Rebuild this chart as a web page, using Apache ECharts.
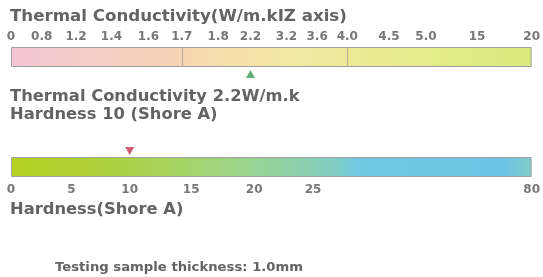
<!DOCTYPE html>
<html>
<head>
  <meta charset="utf-8">
  <title>Thermal Conductivity / Hardness</title>
  <script src="https://cdn.jsdelivr.net/npm/echarts@6/dist/echarts.min.js"></script>
  <style>
    html, body { margin: 0; padding: 0; background: #fff; }
    #chart { width: 543px; height: 277px; }
  </style>
</head>
<body>
<div id="chart"></div>
<script type="text/javascript">
// thermal conductivity scale (non linear, labels as printed on the bar)
var condTicks = ['0','0.8','1.2','1.4','1.6','1.7','1.8','2.2','3.2','3.6','4.0','4.5','5.0','15','20'];
var condTickPos = [0, 5.9, 12.5, 19.3, 26.4, 32.8, 39.8, 46.0, 52.9, 58.8, 64.6, 72.6, 79.7, 89.5, 100];
var condDividers = ['1.7', '4.0'];
var condValue = '2.2';

// hardness scale
var hardTicks = ['0','5','10','15','20','25','80'];
var hardTickPos = [0, 11.6, 22.8, 34.6, 46.7, 58.0, 100];
var hardValue = '10';

var sampleThickness = '1.0mm';

var FONT = '"DejaVu Sans", Verdana, sans-serif';
var TXT = '#636363';

function posOf(ticks, pos, v) {
  return pos[ticks.indexOf(v)];
}
function labelOf(ticks, pos) {
  return function (val) {
    for (var i = 0; i < pos.length; i++) {
      if (Math.abs(pos[i] - val) < 0.01) return ticks[i];
    }
    return '';
  };
}

var chart = echarts.init(document.getElementById('chart'));

var option = {
  backgroundColor: '#fff',
  animation: false,
  grid: [
    { left: 11, right: 10, top: 47, height: 20 },
    { left: 11, right: 9, top: 157, height: 20 }
  ],
  xAxis: [
    {
      gridIndex: 0, type: 'value', min: 0, max: 100, position: 'top',
      axisLine: { show: false }, axisTick: { show: false }, splitLine: { show: false },
      axisLabel: {
        customValues: condTickPos, formatter: labelOf(condTicks, condTickPos),
        margin: 4, fontSize: 12, fontWeight: 'bold', fontFamily: FONT, color: '#777',
        showMinLabel: true, showMaxLabel: true
      }
    },
    {
      gridIndex: 1, type: 'value', min: 0, max: 100, position: 'bottom',
      axisLine: { show: false }, axisTick: { show: false }, splitLine: { show: false },
      axisLabel: {
        customValues: hardTickPos, formatter: labelOf(hardTicks, hardTickPos),
        margin: 7, fontSize: 12, fontWeight: 'bold', fontFamily: FONT, color: '#777',
        showMinLabel: true, showMaxLabel: true
      }
    }
  ],
  yAxis: [
    { gridIndex: 0, type: 'category', data: ['cond'], show: false },
    { gridIndex: 1, type: 'category', data: ['hard'], show: false }
  ],
  series: [
    {
      type: 'bar', xAxisIndex: 0, yAxisIndex: 0, barWidth: 20,
      data: [100],
      itemStyle: {
        borderColor: '#a0a0a0', borderWidth: 1,
        color: new echarts.graphic.LinearGradient(0, 0, 1, 0, [
          { offset: 0, color: '#f4c6d4' },
          { offset: 0.15, color: '#f6ccc8' },
          { offset: 0.3, color: '#f8d2b6' },
          { offset: 0.42, color: '#f6e0aa' },
          { offset: 0.55, color: '#f1e8a2' },
          { offset: 0.75, color: '#e7ec8e' },
          { offset: 1, color: '#dcea7c' }
        ])
      },
      markLine: {
        silent: true, symbol: 'none', label: { show: false },
        lineStyle: { color: '#b0ae96', type: 'solid', width: 1 },
        data: condDividers.map(function (d) { return { xAxis: posOf(condTicks, condTickPos, d) }; })
      }
    },
    {
      type: 'scatter', xAxisIndex: 0, yAxisIndex: 0,
      symbol: 'triangle', symbolSize: [9, 8], symbolOffset: [0, 17],
      itemStyle: { color: '#3a9a52' },
      data: [[posOf(condTicks, condTickPos, condValue), 'cond']]
    },
    {
      type: 'bar', xAxisIndex: 1, yAxisIndex: 1, barWidth: 20,
      data: [100],
      itemStyle: {
        borderColor: '#a0a0a0', borderWidth: 1,
        color: new echarts.graphic.LinearGradient(0, 0, 1, 0, [
          { offset: 0, color: '#b4d022' },
          { offset: 0.15, color: '#aed036' },
          { offset: 0.3, color: '#a8d45c' },
          { offset: 0.45, color: '#9ad48e' },
          { offset: 0.56, color: '#8cd0b0' },
          { offset: 0.62, color: '#80cec2' },
          { offset: 0.67, color: '#6ec8e2' },
          { offset: 0.95, color: '#6cc4e4' },
          { offset: 1, color: '#80ccc8' }
        ])
      }
    },
    {
      type: 'scatter', xAxisIndex: 1, yAxisIndex: 1,
      symbol: 'triangle', symbolSize: [9, 8], symbolRotate: 180, symbolOffset: [0, -16],
      itemStyle: { color: '#c8344c' },
      data: [[posOf(hardTicks, hardTickPos, hardValue), 'hard']]
    }
  ],
  graphic: [
    { type: 'text', x: 10, y: 17, scaleX: 1.04,
      style: { text: 'Thermal Conductivity(W/m.kIZ axis)', font: 'bold 16px ' + FONT, fill: TXT, verticalAlign: 'middle' } },
    { type: 'text', x: 10, y: 97, scaleX: 1.02,
      style: { text: 'Thermal Conductivity ' + condValue + 'W/m.k', font: 'bold 16px ' + FONT, fill: TXT, verticalAlign: 'middle' } },
    { type: 'text', x: 10, y: 115, scaleX: 1.02,
      style: { text: 'Hardness ' + hardValue + ' (Shore A)', font: 'bold 16px ' + FONT, fill: TXT, verticalAlign: 'middle' } },
    { type: 'text', x: 10, y: 210, scaleX: 1.02,
      style: { text: 'Hardness(Shore A)', font: 'bold 16px ' + FONT, fill: TXT, verticalAlign: 'middle' } },
    { type: 'text', x: 55, y: 268, scaleX: 1.1,
      style: { text: 'Testing sample thickness: ' + sampleThickness, font: 'bold 12px ' + FONT, fill: TXT, verticalAlign: 'middle' } }
  ]
};

chart.setOption(option);
</script>
</body>
</html>
